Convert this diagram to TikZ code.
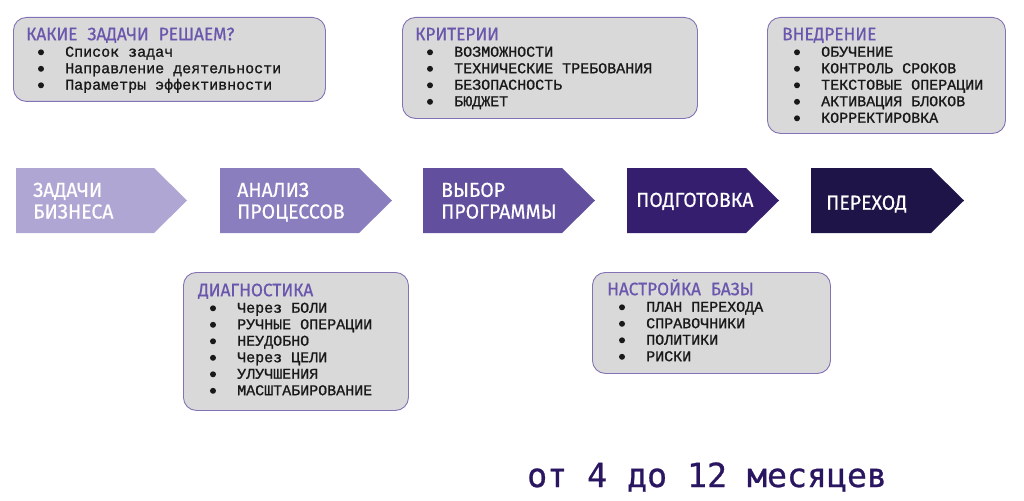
\documentclass[tikz,border=0pt]{standalone}
\usepackage{fontspec}
\setmainfont[FakeBold=1.0,AutoFakeBold=1.0]{Liberation Mono}
\newfontfamily\strelkafont[FakeStretch=0.96,FakeBold=0.6]{Fira Sans}
\newfontfamily\srokfont[FakeBold=0.8]{DejaVu Sans Mono}
\usetikzlibrary{positioning,calc}

\definecolor{chevA}{HTML}{B0A6D3}
\definecolor{chevB}{HTML}{8B7EBF}
\definecolor{chevC}{HTML}{62509F}
\definecolor{chevD}{HTML}{351E6E}
\definecolor{chevE}{HTML}{1F1447}
\definecolor{oknofill}{HTML}{D9D9D9}
\definecolor{oknoline}{HTML}{8373B5}
\definecolor{titul}{HTML}{6A56AD}
\definecolor{srok}{HTML}{2A1660}

\newcommand{\punkt}{\hspace*{39pt}}
% first line carries a fixed strut, so the node top lies 16pt above the title baseline
\newcommand{\zag}[1]{{\strelkafont\fontsize{18}{16.5}\selectfont\spaceskip=10pt\color{titul}\rule{0pt}{16pt}#1}}
% bullet dots beside the lines of a list node
\newcommand{\punkty}[2]{\foreach \i in {1,...,#2}
  \fill[black!90] ($(#1.north west)+(15,11.8+16.5*\i)$) circle (3pt);}

\tikzset{
  okno/.style={draw=oknoline, line width=0.9pt, fill=oknofill, rounded corners=13pt,
    anchor=north west, inner sep=0pt},
  spisok/.style={anchor=north west, align=left, inner sep=0pt, text=black!90,
    font={\fontsize{15}{16.5}\selectfont\lineskiplimit=-20pt}},
  strelka/.style={anchor=north west, align=left, inner sep=0pt, text=white,
    font={\strelkafont\fontsize{20.3}{21.6}\selectfont\lineskiplimit=-20pt}}
}

\begin{document}
\begin{tikzpicture}[x=1pt,y=-1pt]
  \useasboundingbox (0,0) rectangle (1024,500);

  % chevrons
  \foreach \lx/\tx/\px/\by/\cv/\txt/\nm in {
      16/187/33/196.7/chevA/{ЗАДАЧИ\\БИЗНЕСА}/biznes,
      220/392/237/196.7/chevB/{АНАЛИЗ\\ПРОЦЕССОВ}/analiz,
      423/595/441/196.7/chevC/{ВЫБОР\\ПРОГРАММЫ}/vybor,
      627/779/636/206.7/chevD/{ПОДГОТОВКА}/podgotovka,
      811/964/826/209.5/chevE/{ПЕРЕХОД}/perehod}{
    \fill[\cv] (\lx,168) -- (\tx-33,168) -- (\tx,200.5) -- (\tx-33,233) -- (\lx,233) -- cycle;
    \node[strelka] (\nm) at (\px,\by-20) {\rule{0pt}{20pt}\txt};
  }

  % boxes
  \node[okno, minimum width=312pt, minimum height=84pt] (zadachi) at (13,17) {};
  \node[spisok] (zadachi-t) at ($(zadachi.north west)+(13,7)$) {\zag{КАКИЕ ЗАДАЧИ РЕШАЕМ?}\\
    \punkt Список задач\\
    \punkt Направление деятельности\\
    \punkt Параметры эффективности};
  \punkty{zadachi-t}{3}

  \node[okno, minimum width=295pt, minimum height=101pt] (kriterii) at (402,17) {};
  \node[spisok] (kriterii-t) at ($(kriterii.north west)+(13,7)$) {\zag{КРИТЕРИИ}\\
    \punkt ВОЗМОЖНОСТИ\\
    \punkt ТЕХНИЧЕСКИЕ ТРЕБОВАНИЯ\\
    \punkt БЕЗОПАСНОСТЬ\\
    \punkt БЮДЖЕТ};
  \punkty{kriterii-t}{4}

  \node[okno, minimum width=238pt, minimum height=116pt] (vnedrenie) at (767,17) {};
  \node[spisok] (vnedrenie-t) at ($(vnedrenie.north west)+(15,7)$) {\zag{ВНЕДРЕНИЕ}\\
    \punkt ОБУЧЕНИЕ\\
    \punkt КОНТРОЛЬ СРОКОВ\\
    \punkt ТЕКСТОВЫЕ ОПЕРАЦИИ\\
    \punkt АКТИВАЦИЯ БЛОКОВ\\
    \punkt КОРРЕКТИРОВКА};
  \punkty{vnedrenie-t}{5}

  \node[okno, minimum width=225pt, minimum height=138pt] (diagnostika) at (183,272) {};
  \node[spisok] (diagnostika-t) at ($(diagnostika.north west)+(15,8)$) {\zag{ДИАГНОСТИКА}\\
    \punkt Через БОЛИ\\
    \punkt РУЧНЫЕ ОПЕРАЦИИ\\
    \punkt НЕУДОБНО\\
    \punkt Через ЦЕЛИ\\
    \punkt УЛУЧШЕНИЯ\\
    \punkt МАСШТАБИРОВАНИЕ};
  \punkty{diagnostika-t}{6}

  \node[okno, minimum width=238pt, minimum height=101pt] (baza) at (592,272) {};
  \node[spisok] (baza-t) at ($(baza.north west)+(15,7)$) {\zag{НАСТРОЙКА БАЗЫ}\\
    \punkt ПЛАН ПЕРЕХОДА\\
    \punkt СПРАВОЧНИКИ\\
    \punkt ПОЛИТИКИ\\
    \punkt РИСКИ};
  \punkty{baza-t}{4}

  % duration
  \node[anchor=base west, inner sep=0pt, text=srok, font={\srokfont\fontsize{33.2}{36}\selectfont}]
    (srok) at (527,487) {от 4 до 12 месяцев};
\end{tikzpicture}
\end{document}
